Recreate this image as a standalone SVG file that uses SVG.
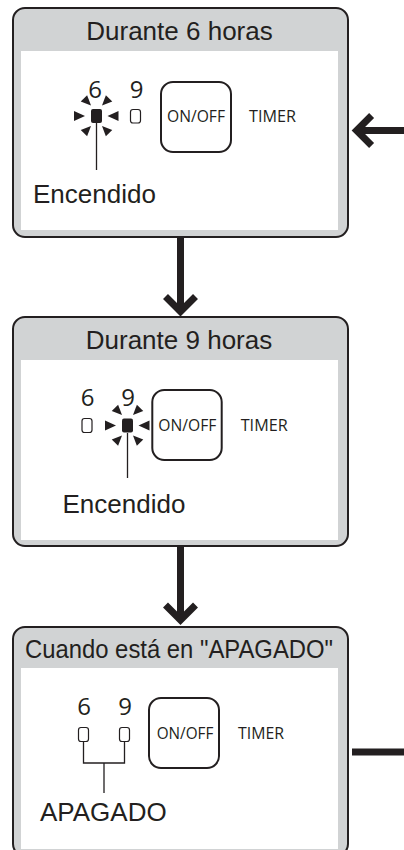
<svg xmlns="http://www.w3.org/2000/svg" width="404" height="850" viewBox="0 0 404 850">
<style>
.box{fill:#d1d3d4;stroke:#231f20;stroke-width:2}
.inner{fill:#ffffff}
.hdr{font-family:"Liberation Sans",Arial,sans-serif;font-size:26px;fill:#231f20;text-anchor:middle}
.lbl{font-family:"Liberation Sans",Arial,sans-serif;font-size:26px;fill:#231f20}
.dig{font-family:"Open Sans","Noto Sans",sans-serif;font-size:24px;fill:#231f20;text-anchor:middle}
.btn{fill:#ffffff;stroke:#231f20;stroke-width:2}
.btxt{font-family:"Open Sans","Noto Sans",sans-serif;font-size:16px;fill:#231f20}
.led{fill:#ffffff;stroke:#231f20;stroke-width:1.2}
.thin{fill:none;stroke:#231f20;stroke-width:1.3}
.conn{fill:none;stroke:#231f20;stroke-width:7}
.tri{fill:#231f20}
</style>
<defs>
<marker id="chev" markerUnits="userSpaceOnUse" orient="auto" overflow="visible" refX="0" refY="0" markerWidth="1" markerHeight="1">
<path d="M-15,-15 L0,0 L-15,15" fill="none" stroke="#231f20" stroke-width="7" stroke-linejoin="miter"/>
</marker>
<polygon id="t" class="tri" points="-11,-5 0,0 -11,5"/>
<polygon id="td" class="tri" points="-10,-4.5 0,0 -10,4.5"/>
<g id="blink">
<rect x="-5.5" y="-7" width="11" height="14" rx="2" fill="#231f20"/>
<use href="#t" transform="translate(-11.5,0)"/>
<use href="#t" transform="translate(11,0) rotate(180)"/>
<use href="#td" transform="translate(-5.5,-10.5) rotate(45)"/>
<use href="#td" transform="translate(5.5,-10.5) rotate(135)"/>
<use href="#td" transform="translate(-5.5,10) rotate(-45)"/>
<use href="#td" transform="translate(5.5,10) rotate(-135)"/>
</g>
</defs>

<g id="connectors">
<path class="conn" d="M180.5,237 V311.5" marker-end="url(#chev)"/>
<path class="conn" d="M180.5,546 V620" marker-end="url(#chev)"/>
<path class="conn" d="M352,752 H430 V130.5 H356.6" marker-end="url(#chev)"/>
</g>

<g id="node1">
<rect class="box" x="13" y="8" width="335" height="229" rx="12"/>
<rect class="inner" x="21" y="51" width="317" height="179"/>
<text class="hdr" x="179.5" y="40">Durante 6 horas</text>
<text class="dig" x="95" y="98">6</text>
<text class="dig" x="136.5" y="98">9</text>
<use href="#blink" transform="translate(96.5,116)"/>
<rect class="led" x="130.5" y="109.5" width="10" height="13.5" rx="2.5"/>
<line class="thin" x1="96.5" y1="123" x2="96.5" y2="170"/>
<rect class="btn" x="161" y="82" width="70" height="70" rx="12"/>
<text class="btxt" x="167" y="122" textLength="58" lengthAdjust="spacingAndGlyphs">ON/OFF</text>
<text class="btxt" x="249" y="122" textLength="47" lengthAdjust="spacingAndGlyphs">TIMER</text>
<text class="lbl" x="33" y="203">Encendido</text>
</g>

<g id="node2">
<rect class="box" x="13" y="317" width="335" height="229" rx="12"/>
<rect class="inner" x="21" y="360" width="317" height="180"/>
<text class="hdr" x="179" y="348.5">Durante 9 horas</text>
<text class="dig" x="87.5" y="406">6</text>
<text class="dig" x="128" y="406">9</text>
<rect class="led" x="82" y="418.5" width="10" height="14" rx="2.5"/>
<use href="#blink" transform="translate(127.5,425.5)"/>
<line class="thin" x1="127.5" y1="433" x2="127.5" y2="478"/>
<rect class="btn" x="152.3" y="390" width="69.4" height="70" rx="12"/>
<text class="btxt" x="158.3" y="430.7" textLength="58" lengthAdjust="spacingAndGlyphs">ON/OFF</text>
<text class="btxt" x="240.7" y="430.7" textLength="47" lengthAdjust="spacingAndGlyphs">TIMER</text>
<text class="lbl" x="62.5" y="513.3">Encendido</text>
</g>

<g id="node3">
<rect class="box" x="13" y="627" width="335" height="229" rx="12"/>
<rect class="inner" x="21" y="668" width="317" height="181"/>
<text class="hdr" x="179" y="658" font-size="25.5" textLength="308" lengthAdjust="spacingAndGlyphs">Cuando está en "APAGADO"</text>
<text class="dig" x="84" y="715">6</text>
<text class="dig" x="125" y="715">9</text>
<rect class="led" x="78.5" y="727.5" width="10" height="14" rx="2.5"/>
<rect class="led" x="119.5" y="727.5" width="10" height="14" rx="2.5"/>
<path class="thin" d="M83.5,741.5 V763 H124.5 V741.5 M104,763 V793"/>
<rect class="btn" x="149" y="698" width="70" height="70" rx="12"/>
<text class="btxt" x="156.7" y="739" textLength="56.6" lengthAdjust="spacingAndGlyphs">ON/OFF</text>
<text class="btxt" x="238" y="739" textLength="46" lengthAdjust="spacingAndGlyphs">TIMER</text>
<text class="lbl" x="40" y="821" font-size="25.5">APAGADO</text>
</g>
</svg>
